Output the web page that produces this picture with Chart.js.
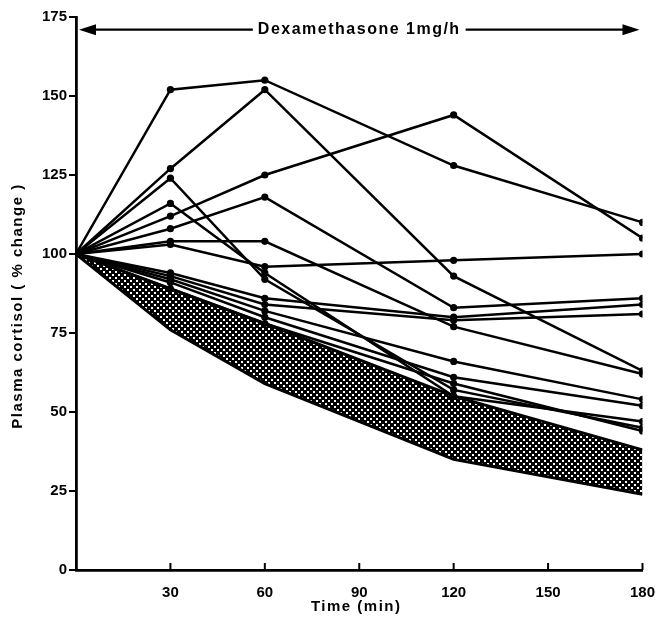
<!DOCTYPE html>
<html>
<head>
<meta charset="utf-8">
<script src="https://cdn.jsdelivr.net/npm/chart.js@4.4.1/dist/chart.umd.min.js"></script>
<style>
  html, body { margin: 0; padding: 0; background: #fff; }
  #wrap { width: 661px; height: 621px; position: relative; }
</style>
</head>
<body>
<div id="wrap"><canvas id="chart"></canvas></div>
<script>
// sampling times (min) and axis ticks
const TIMES = [0, 30, 60, 120, 180];
const X_TICKS = [30, 60, 90, 120, 150, 180];
const Y_TICKS = [0, 25, 50, 75, 100, 125, 150, 175];

// individual subjects, % change of plasma cortisol at each time
const SUBJECTS = [
  [100, 152, 155, 128, 110],
  [100, 112, 125, 144, 105],
  [100, 127, 152, 93, 63],
  [100, 124, 92, 57, 45],
  [100, 108, 118, 83, 86],
  [100, 104, 104, 77, 62],
  [100, 103, 96, 98, 100],
  [100, 116, 94, 55, 47],
  [100, 94, 86, 80, 84],
  [100, 93, 84, 79, 81],
  [100, 92, 82, 66, 54],
  [100, 91, 80, 61, 52],
  [100, 89, 78, 59, 44],
];

// shaded reference range
const BAND_UPPER = [100, 89, 78, 55, 38];
const BAND_LOWER = [100, 76, 59, 35, 24];

const INFUSION_LABEL = 'Dexamethasone 1mg/h';
const INFUSION_FROM = 0;
const INFUSION_TO = 180;
const INFUSION_LEVEL = 171;

const X_TITLE = 'Time (min)';
const Y_TITLE = 'Plasma cortisol ( % change )';

const FONT = '"Liberation Sans", Arial, sans-serif';

function toPoints(values) {
  return values.map((v, i) => ({ x: TIMES[i], y: v }));
}

function hatchPattern() {
  const c = document.createElement('canvas');
  c.width = 6;
  c.height = 6;
  const g = c.getContext('2d');
  g.fillStyle = '#000';
  g.fillRect(0, 0, 6, 6);
  g.fillStyle = '#fff';
  g.fillRect(1, 1, 2, 2);
  g.fillRect(4, 4, 2, 2);
  return g.createPattern(c, 'repeat');
}

const subjectSets = SUBJECTS.map((values) => ({
  data: toPoints(values),
  borderColor: '#000',
  backgroundColor: '#000',
  borderWidth: 2.5,
  pointRadius: values.map((v, i) => (i === 0 ? 0 : 3.6)),
  pointBorderWidth: 0,
  tension: 0,
  fill: false,
}));

const bandSets = [
  {
    data: toPoints(BAND_LOWER),
    borderColor: '#000',
    borderWidth: 3,
    pointRadius: 0,
    tension: 0,
    fill: false,
  },
  {
    data: toPoints(BAND_UPPER),
    borderColor: '#000',
    borderWidth: 3,
    pointRadius: 0,
    tension: 0,
    fill: '-1',
    backgroundColor: hatchPattern(),
  },
];

const overlay = {
  id: 'overlay',
  afterDraw(chart) {
    const { ctx, scales: { x, y } } = chart;
    ctx.save();
    ctx.strokeStyle = '#000';
    ctx.fillStyle = '#000';

    // inward x ticks
    ctx.lineWidth = 2;
    X_TICKS.forEach((t) => {
      const px = x.getPixelForValue(t);
      ctx.beginPath();
      ctx.moveTo(px, y.bottom);
      ctx.lineTo(px, y.bottom - 7);
      ctx.stroke();
    });

    // infusion arrow
    const x0 = x.getPixelForValue(INFUSION_FROM) + 3;
    const x1 = x.getPixelForValue(INFUSION_TO) - 3;
    const py = y.getPixelForValue(INFUSION_LEVEL);
    ctx.font = `bold 16px ${FONT}`;
    ctx.letterSpacing = '1.5px';
    const tw = ctx.measureText(INFUSION_LABEL).width;
    const cx = (x0 + x1) / 2;
    const gap = 5;
    ctx.lineWidth = 2.4;
    ctx.beginPath();
    ctx.moveTo(x0 + 12, py);
    ctx.lineTo(cx - tw / 2 - gap, py);
    ctx.moveTo(cx + tw / 2 + gap, py);
    ctx.lineTo(x1 - 12, py);
    ctx.stroke();
    ctx.beginPath();
    ctx.moveTo(x0, py);
    ctx.lineTo(x0 + 17, py - 5.5);
    ctx.lineTo(x0 + 17, py + 5.5);
    ctx.closePath();
    ctx.moveTo(x1, py);
    ctx.lineTo(x1 - 17, py - 5.5);
    ctx.lineTo(x1 - 17, py + 5.5);
    ctx.closePath();
    ctx.fill();
    ctx.textAlign = 'center';
    ctx.textBaseline = 'middle';
    ctx.fillText(INFUSION_LABEL, cx, py);

    // axis titles
    ctx.font = `bold 15px ${FONT}`;
    ctx.letterSpacing = '1.5px';
    ctx.fillText(X_TITLE, (x.left + x.right) / 2 - 3, 607);

    ctx.save();
    ctx.translate(18, 306);
    ctx.rotate(-Math.PI / 2);
    ctx.font = `bold 15px ${FONT}`;
    ctx.letterSpacing = '1.5px';
    ctx.fillText(Y_TITLE, 0, 0);
    ctx.restore();

    ctx.restore();
  },
};

new Chart(document.getElementById('chart'), {
  type: 'line',
  data: { datasets: [...subjectSets, ...bandSets] },
  options: {
    responsive: true,
    maintainAspectRatio: false,
    animation: false,
    layout: { padding: { top: 17, right: 13, bottom: 0, left: 0 } },
    plugins: {
      legend: { display: false },
      tooltip: { enabled: false },
    },
    scales: {
      x: {
        type: 'linear',
        min: 0,
        max: 180,
        afterBuildTicks: (scale) => {
          scale.ticks = [0, ...X_TICKS].map((v) => ({ value: v }));
        },
        ticks: {
          color: '#000',
          font: { family: FONT, size: 15, weight: 'bold' },
          padding: 6,
          maxRotation: 0,
          callback: (v) => (v === 0 ? '' : v),
        },
        grid: { display: false },
        border: { display: true, color: '#000', width: 2.8 },
        afterFit: (scale) => { scale.height = 51; },
      },
      y: {
        type: 'linear',
        min: 0,
        max: 175,
        afterBuildTicks: (scale) => {
          scale.ticks = Y_TICKS.map((v) => ({ value: v }));
        },
        ticks: {
          color: '#000',
          font: { family: FONT, size: 15, weight: 'bold' },
          padding: 2,
        },
        grid: {
          display: true,
          drawOnChartArea: false,
          drawTicks: true,
          tickLength: 7,
          color: '#000',
          lineWidth: 2,
        },
        border: { display: true, color: '#000', width: 2.8 },
        afterFit: (scale) => { scale.width = 76; },
      },
    },
  },
  plugins: [overlay],
});
</script>
</body>
</html>
